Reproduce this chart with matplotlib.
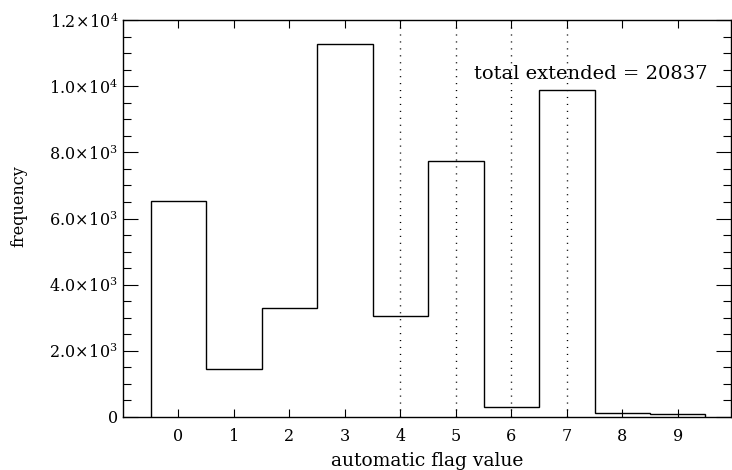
import numpy as np
import matplotlib
matplotlib.use('Agg')
import matplotlib.pyplot as plt
from matplotlib.ticker import FixedLocator, MultipleLocator, FuncFormatter

# histogram of automatic flag values
flags = np.arange(10)
counts = [6520, 1460, 3300, 11270, 3040, 7730, 300, 9870, 110, 80]
extended_flags = [4, 5, 6, 7]
total_extended = 20837

plt.rcParams['font.family'] = 'DejaVu Serif'
plt.rcParams['mathtext.fontset'] = 'dejavuserif'

fig = plt.figure(figsize=(7.32, 4.70), dpi=100)
ax = fig.add_axes([0.168, 0.1128, 0.8306, 0.8446])

edges = np.append(flags - 0.5, flags[-1] + 0.5)
ax.stairs(counts, edges, baseline=0, color='black', linewidth=1.0)

for f in extended_flags:
    ax.axvline(f, color='black', linestyle=(0, (0.8, 4.2)), linewidth=1.0)

ax.set_xlim(-1, 9.96)
ax.set_ylim(0, 12000)

ax.xaxis.set_major_locator(FixedLocator(flags))
ax.yaxis.set_major_locator(MultipleLocator(2000))
ax.yaxis.set_minor_locator(MultipleLocator(500))


def sci(v, pos):
    if v <= 0:
        return '0'
    e = int(np.floor(np.log10(v)))
    return r'$%.1f\!\times\!10^{%d}$' % (v / 10 ** e, e)


ax.yaxis.set_major_formatter(FuncFormatter(sci))
ax.tick_params(axis='both', which='both', direction='in', top=True, right=True,
               labelsize=11.5, width=0.8)
ax.tick_params(axis='y', which='major', length=11)
ax.tick_params(axis='y', which='minor', length=6)
ax.tick_params(axis='x', which='major', length=6, pad=8)
for s in ax.spines.values():
    s.set_linewidth(1.0)

ax.set_xlabel('automatic flag value', fontsize=13.5, labelpad=5)
ax.set_ylabel('frequency', fontsize=11.5)
ax.yaxis.set_label_coords(-0.158, 0.531)

ax.text(0.962, 0.864, 'total extended = %d' % total_extended, transform=ax.transAxes,
        ha='right', va='center', fontsize=14)

fig.savefig('out.png', dpi=100)
